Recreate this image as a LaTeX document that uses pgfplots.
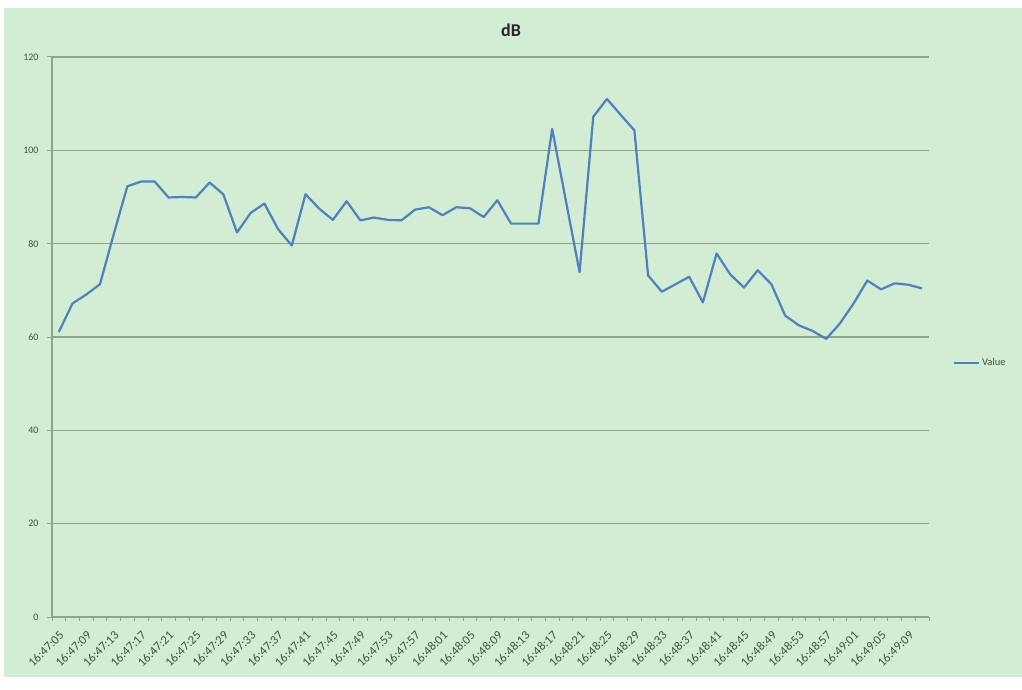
\documentclass[border=0pt]{standalone}
\usepackage{fontspec}
\setmainfont{Carlito}
\usepackage{pgfplots}
\pgfplotsset{compat=1.18}
\usepackage{pgfplotstable}
\definecolor{bggreen}{RGB}{210,237,211}
\definecolor{gridgreen}{RGB}{140,165,140}
\definecolor{linecol}{RGB}{79,129,189}
\definecolor{labcol}{RGB}{60,85,60}
\pgfplotstableread{
k v
0 61.1
1 67.2
2 69.1
3 71.3
4 82.0
5 92.3
6 93.3
7 93.3
8 89.9
9 90.0
10 89.9
11 93.1
12 90.6
13 82.4
14 86.6
15 88.6
16 83.1
17 79.6
18 90.6
19 87.5
20 85.1
21 89.1
22 85.0
23 85.6
24 85.1
25 85.0
26 87.3
27 87.8
28 86.1
29 87.8
30 87.6
31 85.7
32 89.3
33 84.3
34 84.3
35 84.3
36 104.6
37 89.2
38 73.9
39 107.2
40 111.0
41 107.6
42 104.3
43 73.2
44 69.7
45 71.3
46 72.9
47 67.4
48 77.9
49 73.4
50 70.6
51 74.3
52 71.3
53 64.6
54 62.5
55 61.3
56 59.6
57 62.9
58 67.2
59 72.1
60 70.2
61 71.5
62 71.2
63 70.4
}\dbdata
\begin{document}
\begin{tikzpicture}[x=1pt,y=1pt]
\fill[white] (0,0) rectangle (1022,689);
\fill[bggreen] (4,12) rectangle (1022,681);
\node[font=\fontsize{18}{20}\selectfont\bfseries, text=black!85] at (511,659) {dB};
\begin{axis}[
  at={(52pt,72pt)}, anchor=south west,
  width=877pt, height=560pt, scale only axis,
  xmin=-0.5, xmax=63.5, ymin=0, ymax=120,
  axis x line*=bottom, axis y line*=left,
  axis line style={gridgreen, line width=1.3pt, -},
  ymajorgrids, grid style={gridgreen, line width=1.3pt},
  ytick={0,20,...,120},
  xtick={0,2,...,62},
  xticklabels={16:47:05,16:47:09,16:47:13,16:47:17,16:47:21,16:47:25,16:47:29,16:47:33,16:47:37,16:47:41,16:47:45,16:47:49,16:47:53,16:47:57,16:48:01,16:48:05,16:48:09,16:48:13,16:48:17,16:48:21,16:48:25,16:48:29,16:48:33,16:48:37,16:48:41,16:48:45,16:48:49,16:48:53,16:48:57,16:49:01,16:49:05,16:49:09},
  minor xtick={-0.5,0.5,...,63.5},
  major x tick style={draw=none},
  minor x tick style={draw=gridgreen, line width=0.8pt},
  minor tick length=4pt,
  ytick style={gridgreen, line width=1pt},
  tick align=outside, major tick length=5pt,
  xticklabel style={anchor=east, xshift=3pt, yshift=-11pt, rotate=45, font=\fontsize{12.5}{14}\selectfont, text=labcol, inner sep=0pt},
  yticklabel style={font=\fontsize{10}{12}\selectfont, text=labcol, xshift=-5pt},
  /pgf/number format/assume math mode=true,
  legend style={at={(1.027,0.454)}, anchor=west, draw=none, fill=none, font=\fontsize{10.5}{12}\selectfont, text=labcol, inner sep=0pt, legend cell align=left},
  legend image code/.code={\draw[#1] (0pt,0pt) -- (25pt,0pt);},
]
\addplot[linecol, line width=2.2pt, line join=round] table[x=k, y=v] {\dbdata};
\addlegendentry{Value}
\end{axis}
\end{tikzpicture}
\end{document}
